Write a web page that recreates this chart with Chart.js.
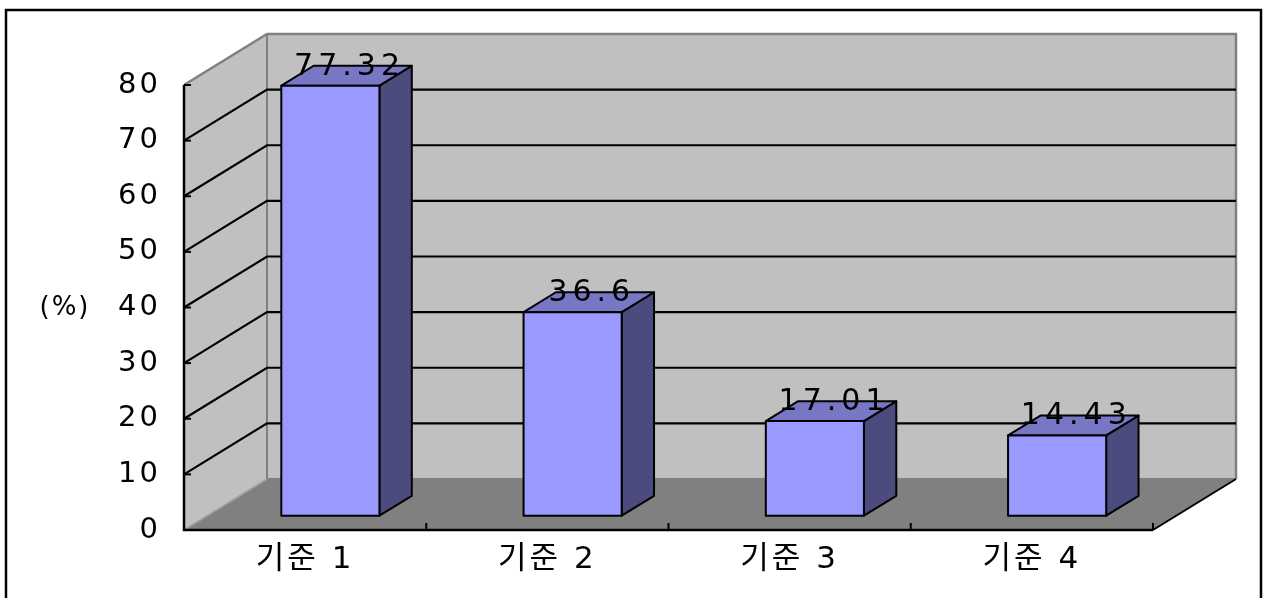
<!DOCTYPE html>
<html>
<head>
<meta charset="utf-8">
<script src="https://cdn.jsdelivr.net/npm/chart.js@4/dist/chart.umd.min.js"></script>
<style>
  html, body { margin: 0; padding: 0; background: #fff; }
</style>
</head>
<body>
<canvas id="barChart" width="1265" height="598"></canvas>
<script>
// 3D-style column chart: percentage per criterion
const categories = ['기준 1', '기준 2', '기준 3', '기준 4'];
const percentValues = [77.32, 36.6, 17.01, 14.43];
const yTicks = [0, 10, 20, 30, 40, 50, 60, 70, 80];
const unitLabel = '(%)';

const FONT = '"DejaVu Sans", "Noto Sans CJK KR", sans-serif';

// depth of the floor / walls, and where the columns sit inside it
const depthX = 83, depthY = 51;
const barFront = 0.28, barBack = 0.67;

function poly(ctx, pts, fill, stroke, lw) {
    ctx.beginPath();
    ctx.moveTo(pts[0][0], pts[0][1]);
    for (let i = 1; i < pts.length; i++) ctx.lineTo(pts[i][0], pts[i][1]);
    ctx.closePath();
    if (fill) { ctx.fillStyle = fill; ctx.fill(); }
    if (stroke) { ctx.strokeStyle = stroke; ctx.lineWidth = lw || 1; ctx.stroke(); }
}

function line(ctx, pts, color, lw) {
    ctx.beginPath();
    ctx.moveTo(pts[0][0], pts[0][1]);
    for (let i = 1; i < pts.length; i++) ctx.lineTo(pts[i][0], pts[i][1]);
    ctx.strokeStyle = color;
    ctx.lineWidth = lw;
    ctx.stroke();
}

const box3d = {
    id: 'box3d',
    beforeUpdate(chart) {
        chart.ctx.letterSpacing = '3px';
    },
    beforeDraw(chart) {
        const ctx = chart.ctx;
        const { left, right, top, bottom } = chart.chartArea;
        const yScale = chart.scales.y;
        ctx.save();
        ctx.fillStyle = '#ffffff';
        ctx.fillRect(0, 0, chart.width, chart.height);

        // side wall, back wall, floor
        poly(ctx, [[left, top], [left + depthX, top - depthY], [left + depthX, bottom - depthY], [left, bottom]], '#c0c0c0');
        poly(ctx, [[left + depthX, top - depthY], [right + depthX, top - depthY], [right + depthX, bottom - depthY], [left + depthX, bottom - depthY]], '#c0c0c0');
        poly(ctx, [[left, bottom], [left + depthX, bottom - depthY], [right + depthX, bottom - depthY], [right, bottom]], '#808080');

        // wall edges
        line(ctx, [[left, top], [left + depthX, top - depthY], [right + depthX, top - depthY], [right + depthX, bottom - depthY]], '#808080', 2.5);
        line(ctx, [[left + depthX, top - depthY], [left + depthX, bottom - depthY], [right + depthX, bottom - depthY]], '#808080', 2);
        line(ctx, [[left, bottom], [left + depthX, bottom - depthY]], '#a0a0a0', 1.5);

        // gridlines across side and back walls
        yTicks.forEach(v => {
            if (v === yTicks[0] || v === yTicks[yTicks.length - 1]) return;
            const y = yScale.getPixelForValue(v);
            line(ctx, [[left, y], [left + depthX, y - depthY], [right + depthX, y - depthY]], '#000000', 2.2);
        });

        // front axes with tick marks
        line(ctx, [[left, top], [left, bottom], [right, bottom]], '#000000', 2.5);
        line(ctx, [[right, bottom], [right + depthX, bottom - depthY]], '#000000', 2);
        yTicks.forEach(v => {
            const y = yScale.getPixelForValue(v);
            line(ctx, [[left, y], [left + 7, y]], '#000000', 2);
        });
        for (let i = 1; i <= categories.length; i++) {
            const x = left + (right - left) * i / categories.length;
            line(ctx, [[x, bottom], [x, bottom - 7]], '#000000', 2);
        }

        // outer frame
        ctx.strokeStyle = '#000000';
        ctx.lineWidth = 2.5;
        ctx.strokeRect(6, 10, 1255, 600);
        ctx.restore();
        ctx.letterSpacing = '3px';
    },
    afterDatasetsDraw(chart) {
        const ctx = chart.ctx;
        const meta = chart.getDatasetMeta(0);
        ctx.save();
        ctx.lineJoin = 'round';
        meta.data.forEach((bar, i) => {
            const w = bar.width;
            const fx = bar.x - w / 2 + depthX * barFront + 2;
            const fy = bar.y - depthY * barFront;
            const fb = bar.base - depthY * barFront;
            const sx = depthX * (barBack - barFront);
            const sy = depthY * (barBack - barFront);
            poly(ctx, [[fx + w, fy], [fx + w + sx, fy - sy], [fx + w + sx, fb - sy], [fx + w, fb]], '#4b4b7d', '#000000', 2);
            poly(ctx, [[fx, fy], [fx + sx, fy - sy], [fx + w + sx, fy - sy], [fx + w, fy]], '#7777c6', '#000000', 2);
            poly(ctx, [[fx, fy], [fx + w, fy], [fx + w, fb], [fx, fb]], '#9999ff', '#000000', 2);

            // value label sitting on the top face
            ctx.fillStyle = '#000000';
            ctx.font = '30px ' + FONT;
            ctx.letterSpacing = '5px';
            ctx.textAlign = 'center';
            ctx.textBaseline = 'middle';
            ctx.fillText(String(percentValues[i]), fx + (w + sx) / 2 + 3, fy - sy + 1);
        });

        ctx.font = '26px ' + FONT;
        ctx.letterSpacing = '2px';
        ctx.textAlign = 'center';
        ctx.textBaseline = 'middle';
        ctx.fillStyle = '#000000';
        ctx.fillText(unitLabel, 65, 308);
        ctx.restore();
        ctx.letterSpacing = '3px';
    }
};

new Chart(document.getElementById('barChart'), {
    type: 'bar',
    data: {
        labels: categories,
        datasets: [{
            data: percentValues,
            backgroundColor: 'rgba(0,0,0,0)',
            borderWidth: 0,
            categoryPercentage: 1,
            barPercentage: 0.405
        }]
    },
    options: {
        responsive: false,
        devicePixelRatio: 1,
        animation: false,
        layout: { padding: { top: 85, right: 112, left: 0, bottom: 0 } },
        plugins: { legend: { display: false }, tooltip: { enabled: false } },
        scales: {
            x: {
                grid: { display: false },
                border: { display: false },
                ticks: {
                    color: '#000000',
                    font: { family: FONT, size: 31 },
                    padding: 3,
                    maxRotation: 0,
                    autoSkip: false
                },
                afterFit(scale) { scale.height = 68; }
            },
            y: {
                min: 0,
                max: 80,
                grid: { display: false },
                border: { display: false },
                ticks: {
                    color: '#000000',
                    font: { family: FONT, size: 29 },
                    padding: 15
                },
                afterBuildTicks(scale) { scale.ticks = yTicks.map(v => ({ value: v })); },
                afterFit(scale) { scale.width = 184; }
            }
        }
    },
    plugins: [box3d]
});
</script>
</body>
</html>
